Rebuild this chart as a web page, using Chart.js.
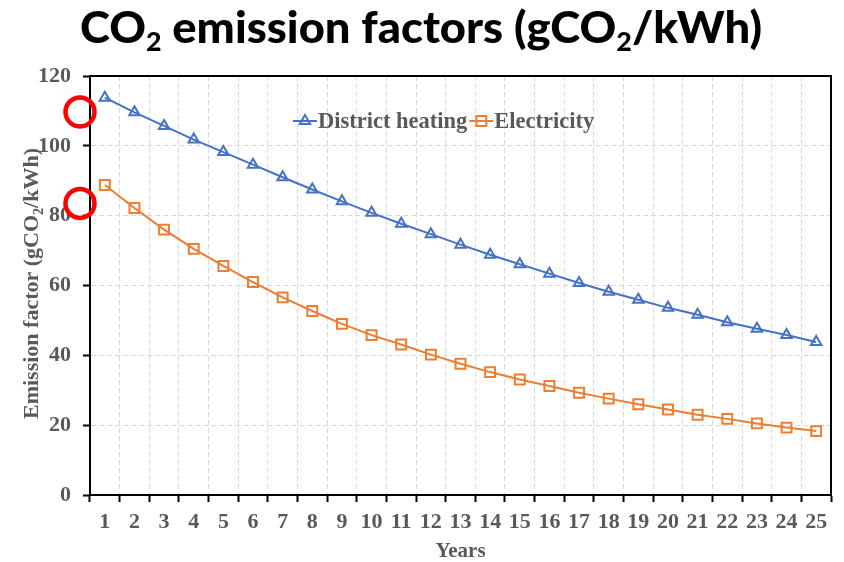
<!DOCTYPE html>
<html>
<head>
<meta charset="utf-8">
<script src="https://cdn.jsdelivr.net/npm/chart.js@4/dist/chart.umd.min.js"></script>
<style>
  html, body { margin: 0; padding: 0; background: #fff; }
  #wrap { width: 844px; height: 562px; }
  canvas { display: block; }
</style>
</head>
<body>
<div id="wrap"><canvas id="chart" width="844" height="562"></canvas></div>
<script>
// Emission factors per year of operation (gCO2/kWh)
const years = ['1', '2', '3', '4', '5', '6', '7', '8', '9', '10', '11', '12', '13',
               '14', '15', '16', '17', '18', '19', '20', '21', '22', '23', '24', '25'];
const districtHeating = [113.8, 109.6, 105.7, 101.8, 98.2, 94.6, 91.0, 87.5, 84.1, 80.8,
                         77.7, 74.7, 71.7, 68.8, 66.1, 63.4, 60.7, 58.2, 55.9, 53.6,
                         51.6, 49.5, 47.6, 45.8, 43.8];
const electricity = [88.8, 82.2, 76.0, 70.5, 65.6, 61.0, 56.6, 52.7, 49.0, 45.8,
                     43.1, 40.2, 37.6, 35.2, 33.1, 31.2, 29.3, 27.6, 26.0, 24.5,
                     23.0, 21.8, 20.5, 19.3, 18.3];
const seriesNames = ['District heating', 'Electricity'];
// levels ringed in red on the vertical axis
const markedLevels = [109.7, 83.5];
const yMin = 0, yMax = 120, yStep = 20;

// Text pieces; "sub" marks subscript digits
const chartTitle = [
  { t: 'CO' }, { t: '2', sub: true }, { t: ' emission factors (gCO' }, { t: '2', sub: true }, { t: '/kWh)' }
];
const yTitle = [
  { t: 'Emission factor (gCO' }, { t: '2', sub: true }, { t: '/kWh)' }
];
const xTitle = 'Years';

const BLUE = '#4472C4';
const ORANGE = '#ED7D31';
const GREY_TEXT = '#595959';
const GRID = '#d9d9d9';
const SERIF = '"Liberation Serif", "Times New Roman", serif';

// Draws a run of text with subscripts, centred on x = 0 at baseline y = 0 of the current transform
function drawRich(ctx, parts, font, subFont, subDrop, targetWidth) {
  const widths = parts.map(p => {
    ctx.font = p.sub ? subFont : font;
    return ctx.measureText(p.t).width;
  });
  const total = widths.reduce((s, w) => s + w, 0);
  const k = targetWidth ? targetWidth / total : 1;
  ctx.scale(k, 1);
  ctx.textAlign = 'left';
  ctx.textBaseline = 'alphabetic';
  let x = -total / 2;
  parts.forEach((p, i) => {
    ctx.font = p.sub ? subFont : font;
    ctx.fillText(p.t, x, p.sub ? subDrop : 0);
    x += widths[i];
  });
}

const decorPlugin = {
  id: 'decor',
  beforeDatasetsDraw(chart) {
    // closing frame: top and right edges of the plot area
    const { ctx, chartArea: a } = chart;
    ctx.save();
    ctx.strokeStyle = '#000';
    ctx.lineWidth = 2;
    ctx.beginPath();
    ctx.moveTo(a.left, a.top);
    ctx.lineTo(a.right, a.top);
    ctx.lineTo(a.right, a.bottom);
    ctx.stroke();
    ctx.restore();
  },
  afterDraw(chart) {
    const { ctx, chartArea: a } = chart;
    const yScale = chart.scales.y;

    // main heading
    ctx.save();
    ctx.fillStyle = '#000';
    ctx.translate(421, 43);
    drawRich(ctx, chartTitle, '900 44px Lato', '900 26px Lato', 8, 682);
    ctx.restore();

    // vertical axis title
    ctx.save();
    ctx.fillStyle = GREY_TEXT;
    ctx.translate(38, (a.top + a.bottom) / 2 - 2);
    ctx.rotate(-Math.PI / 2);
    drawRich(ctx, yTitle, 'bold 22px ' + SERIF, 'bold 14px ' + SERIF, 5, null);
    ctx.restore();

    // legend inside the plot area: line + marker, then the series name
    ctx.save();
    const ly = a.top + 45;
    let lx = a.left + 203;
    ctx.font = 'bold 22.5px ' + SERIF;
    ctx.textBaseline = 'middle';
    ctx.textAlign = 'left';
    chart.data.datasets.forEach((ds, i) => {
      const segW = 24;
      ctx.strokeStyle = ds.borderColor;
      ctx.lineWidth = 2;
      ctx.beginPath();
      ctx.moveTo(lx, ly);
      ctx.lineTo(lx + segW, ly);
      ctx.stroke();
      ctx.fillStyle = 'rgba(0,0,0,0)';
      Chart.helpers.drawPoint(ctx, {
        pointStyle: ds.pointStyle,
        radius: ds.pointRadius,
        borderWidth: 2,
        rotation: 0
      }, lx + segW / 2, ly);
      ctx.fillStyle = GREY_TEXT;
      ctx.fillText(seriesNames[i], lx + segW + 1, ly + 1);
      lx += segW + 1 + ctx.measureText(seriesNames[i]).width + 2;
    });
    ctx.restore();

    // red rings on the vertical axis at the marked levels
    ctx.save();
    ctx.strokeStyle = '#FF0000';
    ctx.lineWidth = 4.5;
    markedLevels.forEach(v => {
      ctx.beginPath();
      ctx.arc(a.left - 10, yScale.getPixelForValue(v), 14.5, 0, Math.PI * 2);
      ctx.stroke();
    });
    ctx.restore();
  }
};

const tickFont = { family: SERIF, size: 22, weight: 'bold' };

new Chart(document.getElementById('chart'), {
  type: 'line',
  data: {
    labels: years,
    datasets: [
      {
        label: seriesNames[0],
        data: districtHeating,
        borderColor: BLUE,
        borderWidth: 2,
        pointStyle: 'triangle',
        pointRadius: 6,
        pointBorderWidth: 2,
        pointBorderColor: BLUE,
        pointBackgroundColor: 'rgba(0,0,0,0)',
        tension: 0
      },
      {
        label: seriesNames[1],
        data: electricity,
        borderColor: ORANGE,
        borderWidth: 2,
        pointStyle: 'rect',
        pointRadius: 7,
        pointBorderWidth: 2,
        pointBorderColor: ORANGE,
        pointBackgroundColor: 'rgba(0,0,0,0)',
        tension: 0
      }
    ]
  },
  options: {
    responsive: false,
    animation: false,
    events: [],
    devicePixelRatio: 1,
    layout: { padding: { top: 76, right: 13, bottom: 0, left: 0 } },
    plugins: {
      legend: { display: false },
      title: { display: false },
      tooltip: { enabled: false }
    },
    scales: {
      x: {
        type: 'category',
        offset: true,
        grid: {
          offset: true,
          color: GRID,
          lineWidth: 1,
          drawTicks: true,
          tickLength: 7,
          tickColor: '#000',
          tickWidth: 2,
          tickBorderDash: []
        },
        border: { display: true, color: '#000', width: 2, dash: [5, 3] },
        ticks: {
          color: GREY_TEXT,
          font: tickFont,
          padding: 7,
          maxRotation: 0,
          autoSkip: false
        },
        title: {
          display: true,
          text: xTitle,
          color: GREY_TEXT,
          font: { family: SERIF, size: 21, weight: 'bold', lineHeight: 1 },
          padding: { top: 0, bottom: 0 }
        },
        afterFit(scale) { scale.height = 67; }
      },
      y: {
        min: yMin,
        max: yMax,
        ticks: {
          stepSize: yStep,
          color: GREY_TEXT,
          font: tickFont,
          padding: 12
        },
        grid: {
          color: GRID,
          lineWidth: 1,
          drawTicks: true,
          tickLength: 7,
          tickColor: '#000',
          tickWidth: 2,
          tickBorderDash: []
        },
        border: { display: true, color: '#000', width: 2, dash: [5, 3] },
        title: { display: false },
        afterFit(scale) { scale.width = 90; }
      }
    }
  },
  plugins: [decorPlugin]
});
</script>
</body>
</html>
